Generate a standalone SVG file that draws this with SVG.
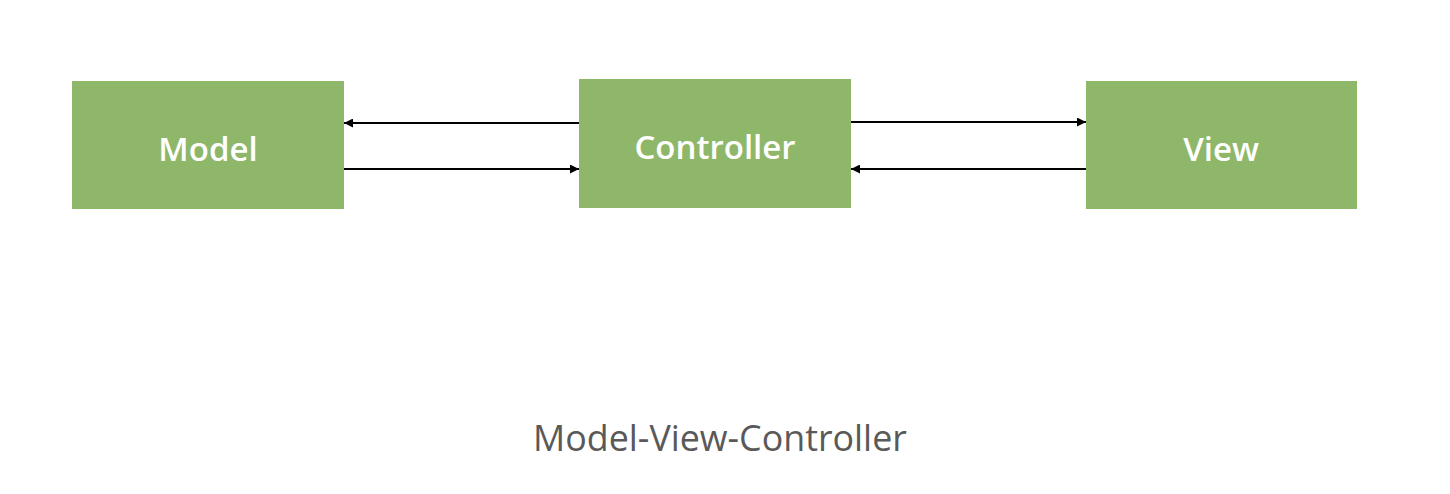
<svg xmlns="http://www.w3.org/2000/svg" width="1450" height="494" viewBox="0 0 1450 494">
<style>
.box{fill:#8fb769}
.lbl{font-family:"Open Sans","Liberation Sans",sans-serif;font-size:33px;font-weight:600;fill:#ffffff;text-anchor:middle}
.conn{stroke:#000;stroke-width:2;fill:none}
.cap{font-family:"Open Sans","Liberation Sans",sans-serif;font-size:35.8px;fill:#595959;text-anchor:middle}
</style>
<defs>
<marker id="ah" viewBox="0 0 10 10" refX="10" refY="5" markerWidth="9" markerHeight="9" markerUnits="userSpaceOnUse" orient="auto"><path d="M0,0 L10,5 L0,10 z" fill="#000"/></marker>
</defs>
<rect width="1450" height="494" fill="#fff"/>
<g id="model"><rect class="box" x="72" y="81" width="272" height="128"/><text class="lbl" x="208" y="161">Model</text></g>
<g id="controller"><rect class="box" x="579" y="79" width="272" height="129"/><text class="lbl" x="715" y="159">Controller</text></g>
<g id="view"><rect class="box" x="1086" y="81" width="271" height="128"/><text class="lbl" x="1221" y="161">View</text></g>
<g id="connectors">
<line class="conn" x1="579" y1="123" x2="344" y2="123" marker-end="url(#ah)"/>
<line class="conn" x1="344" y1="169" x2="579" y2="169" marker-end="url(#ah)"/>
<line class="conn" x1="851" y1="122" x2="1086" y2="122" marker-end="url(#ah)"/>
<line class="conn" x1="1086" y1="169" x2="851" y2="169" marker-end="url(#ah)"/>
</g>
<text id="caption" class="cap" x="720" y="451">Model-View-Controller</text>
</svg>
